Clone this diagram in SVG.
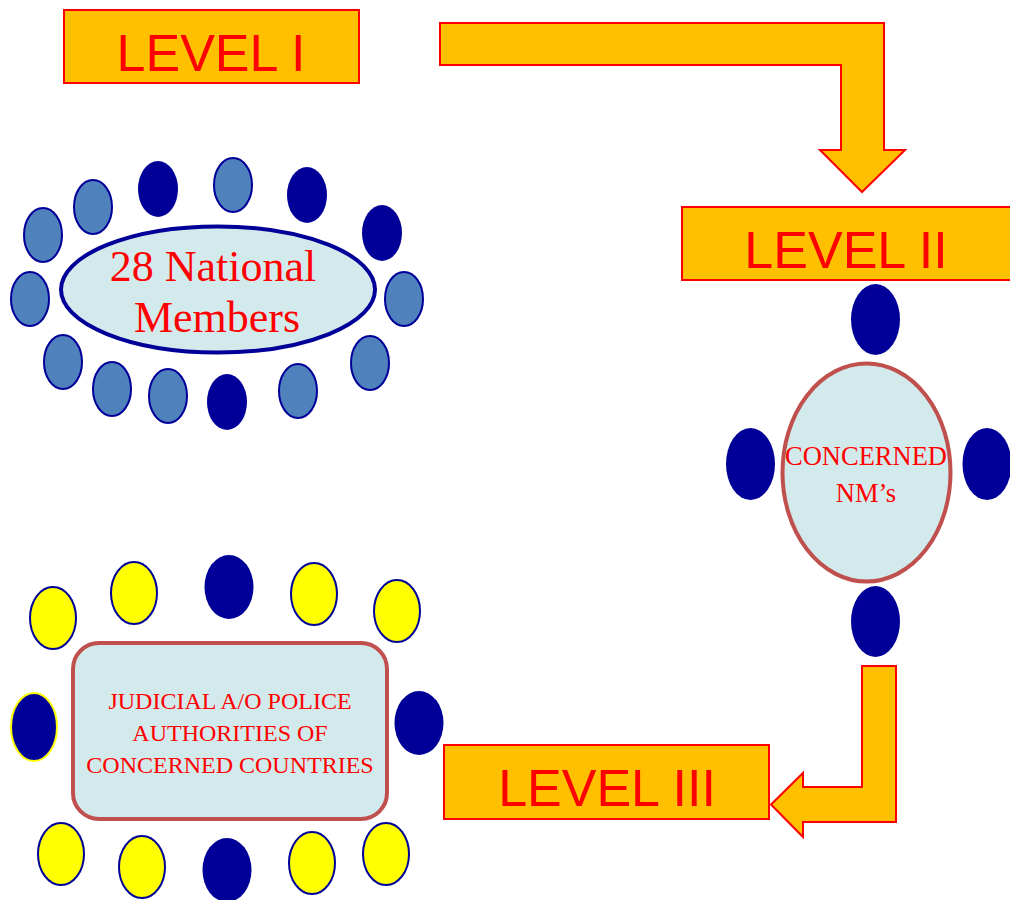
<svg xmlns="http://www.w3.org/2000/svg" width="1010" height="900" viewBox="0 0 1010 900">
<style>
.lvl{fill:#ffc000;stroke:#ff0000;stroke-width:2}
.lvt{font-family:"Liberation Sans",Arial,sans-serif;font-size:52px;fill:#ff0000;text-anchor:middle}
.arrow{fill:#ffc000;stroke:#ff0000;stroke-width:2;stroke-linejoin:miter}
.lb{fill:#4f81bd;stroke:#000099;stroke-width:2}
.dk{fill:#000099;stroke:none}
.ye{fill:#ffff00;stroke:#000099;stroke-width:2}
.tbl{fill:#d3eaed}
.st{font-family:"Liberation Serif","Times New Roman",serif;fill:#ff0000;text-anchor:middle}
</style>
<rect width="1010" height="900" fill="#ffffff"/>
<g id="level1">
<rect class="lvl" x="64" y="10" width="295" height="73"/>
<text class="lvt" x="211" y="71">LEVEL I</text>
</g>
<g id="level2">
<rect class="lvl" x="682" y="207" width="332" height="73"/>
<text class="lvt" x="846" y="268">LEVEL II</text>
</g>
<g id="level3">
<rect class="lvl" x="444" y="745" width="325" height="74"/>
<text class="lvt" x="607" y="806">LEVEL III</text>
</g>
<g id="connectors">
<polygon class="arrow" points="440,23 884,23 884,150 905,150 862,192 820,150 841,150 841,65 440,65"/>
<polygon class="arrow" points="862,666 896,666 896,822 803,822 803,837 771,804.5 803,773 803,787 862,787"/>
</g>
<g id="national-members">
<ellipse class="lb" cx="43" cy="235" rx="19" ry="27"/>
<ellipse class="lb" cx="93" cy="207" rx="19" ry="27"/>
<ellipse class="dk" cx="158" cy="189" rx="20" ry="28"/>
<ellipse class="lb" cx="233" cy="185" rx="19" ry="27"/>
<ellipse class="dk" cx="307" cy="195" rx="20" ry="28"/>
<ellipse class="dk" cx="382" cy="233" rx="20" ry="28"/>
<ellipse class="lb" cx="404" cy="299" rx="19" ry="27"/>
<ellipse class="lb" cx="370" cy="363" rx="19" ry="27"/>
<ellipse class="lb" cx="298" cy="391" rx="19" ry="27"/>
<ellipse class="dk" cx="227" cy="402" rx="20" ry="28"/>
<ellipse class="lb" cx="168" cy="396" rx="19" ry="27"/>
<ellipse class="lb" cx="112" cy="389" rx="19" ry="27"/>
<ellipse class="lb" cx="63" cy="362" rx="19" ry="27"/>
<ellipse class="lb" cx="30" cy="299" rx="19" ry="27"/>
<ellipse class="tbl" cx="218" cy="289.5" rx="157" ry="63" stroke="#000099" stroke-width="4"/>
<text class="st" x="213" y="281" font-size="44">28 National</text>
<text class="st" x="217" y="332" font-size="44">Members</text>
</g>
<g id="concerned-nms">
<ellipse class="dk" cx="875.5" cy="319.5" rx="24.5" ry="35.5"/>
<ellipse class="dk" cx="750.5" cy="464" rx="24.5" ry="36"/>
<ellipse class="dk" cx="987" cy="464" rx="24.5" ry="36"/>
<ellipse class="dk" cx="875.5" cy="621.5" rx="24.5" ry="35.5"/>
<ellipse class="tbl" cx="866.5" cy="472.5" rx="84" ry="109" stroke="#c0504d" stroke-width="4"/>
<text class="st" x="866" y="465" font-size="26.5">CONCERNED</text>
<text class="st" x="866" y="502" font-size="26.5">NM’s</text>
</g>
<g id="judicial">
<ellipse class="ye" cx="53" cy="618" rx="23" ry="31"/>
<ellipse class="ye" cx="134" cy="593" rx="23" ry="31"/>
<ellipse class="dk" cx="229" cy="587" rx="24.5" ry="32"/>
<ellipse class="ye" cx="314" cy="594" rx="23" ry="31"/>
<ellipse class="ye" cx="397" cy="611" rx="23" ry="31"/>
<ellipse cx="34" cy="727" rx="23" ry="34" fill="#000099" stroke="#ffff00" stroke-width="2"/>
<ellipse class="dk" cx="419" cy="723" rx="24.5" ry="32"/>
<ellipse class="ye" cx="61" cy="854" rx="23" ry="31"/>
<ellipse class="ye" cx="142" cy="867" rx="23" ry="31"/>
<ellipse class="dk" cx="227" cy="870" rx="24.5" ry="32"/>
<ellipse class="ye" cx="312" cy="863" rx="23" ry="31"/>
<ellipse class="ye" cx="386" cy="854" rx="23" ry="31"/>
<rect class="tbl" x="73" y="643" width="314" height="176" rx="26" stroke="#c0504d" stroke-width="4"/>
<text class="st" x="230" y="709" font-size="24">JUDICIAL A/O POLICE</text>
<text class="st" x="230" y="741" font-size="24">AUTHORITIES OF</text>
<text class="st" x="230" y="773" font-size="24">CONCERNED COUNTRIES</text>
</g>
</svg>
